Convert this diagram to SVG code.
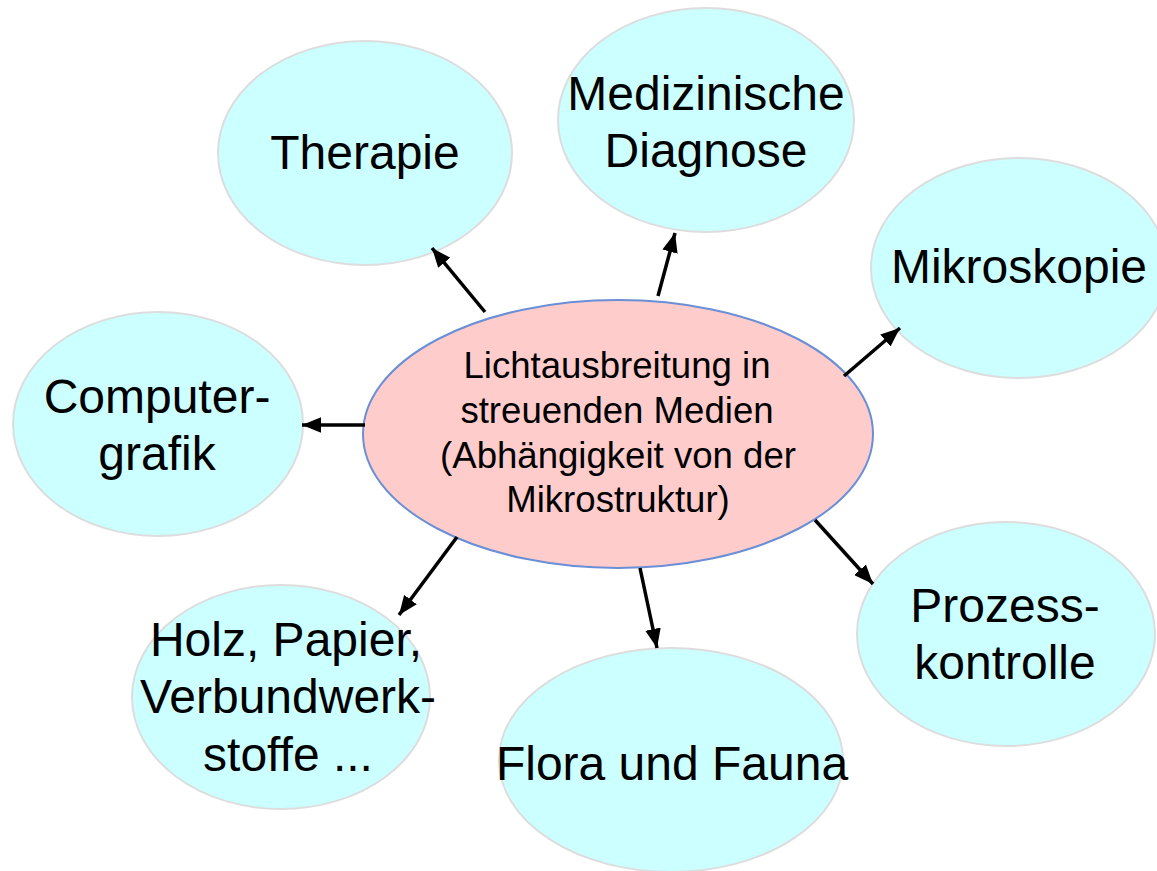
<svg xmlns="http://www.w3.org/2000/svg" width="1157" height="871" viewBox="0 0 1157 871">
<style>
.n{fill:#CCFFFF;stroke:#DDDDDD;stroke-width:2}
.c{fill:#FFCCCC;stroke:#6A8FD6;stroke-width:2}
.t{font-family:"Liberation Sans",Arial,sans-serif;font-size:48px;fill:#000;text-anchor:middle}
.tc{font-family:"Liberation Sans",Arial,sans-serif;font-size:36.6px;fill:#000;text-anchor:middle}
.a{stroke:#000;stroke-width:3.5;fill:none;marker-end:url(#ah)}
</style>
<defs>
<marker id="ah" viewBox="0 0 10 10" refX="10" refY="5" markerWidth="5.5" markerHeight="4.5" markerUnits="strokeWidth" orient="auto" preserveAspectRatio="none">
<path d="M0,0 L10,5 L0,10 z" fill="#000"/>
</marker>
</defs>
<rect width="1157" height="871" fill="#fff"/>
<g id="therapie"><ellipse class="n" cx="365" cy="153" rx="147" ry="112"/><text class="t" x="365" y="169">Therapie</text></g>
<g id="diagnose"><ellipse class="n" cx="706" cy="120" rx="148" ry="112"/><text class="t" x="706" y="110">Medizinische</text><text class="t" x="706" y="167">Diagnose</text></g>
<g id="mikroskopie"><ellipse class="n" cx="1019" cy="268" rx="148" ry="110"/><text class="t" x="1019" y="283">Mikroskopie</text></g>
<g id="computergrafik"><ellipse class="n" cx="158" cy="424" rx="145" ry="112"/><text class="t" x="157" y="413">Computer-</text><text class="t" x="157" y="470">grafik</text></g>
<g id="holz"><ellipse class="n" cx="281" cy="697" rx="149" ry="112"/><text class="t" x="286" y="656">Holz, Papier,</text><text class="t" x="288" y="713">Verbundwerk-</text><text class="t" x="288" y="771">stoffe ...</text></g>
<g id="flora"><ellipse class="n" cx="671" cy="760" rx="172" ry="112"/><text class="t" x="672" y="780">Flora und Fauna</text></g>
<g id="prozess"><ellipse class="n" cx="1006" cy="634" rx="149" ry="112"/><text class="t" x="1005" y="622">Prozess-</text><text class="t" x="1005" y="679">kontrolle</text></g>
<g id="center"><ellipse class="c" cx="618" cy="434" rx="255" ry="134"/><text class="tc" x="617" y="378">Lichtausbreitung in</text><text class="tc" x="617" y="423">streuenden Medien</text><text class="tc" x="618" y="468">(Abhängigkeit von der</text><text class="tc" x="618" y="512">Mikrostruktur)</text></g>
<g id="connectors">
<line class="a" x1="485" y1="312" x2="432" y2="248"/>
<line class="a" x1="658" y1="296" x2="675" y2="233"/>
<line class="a" x1="844" y1="376" x2="900" y2="328"/>
<line class="a" x1="365" y1="425" x2="302" y2="425"/>
<line class="a" x1="457" y1="537" x2="399" y2="615"/>
<line class="a" x1="640" y1="568" x2="657" y2="648"/>
<line class="a" x1="815" y1="520" x2="873" y2="584"/>
</g>
</svg>
